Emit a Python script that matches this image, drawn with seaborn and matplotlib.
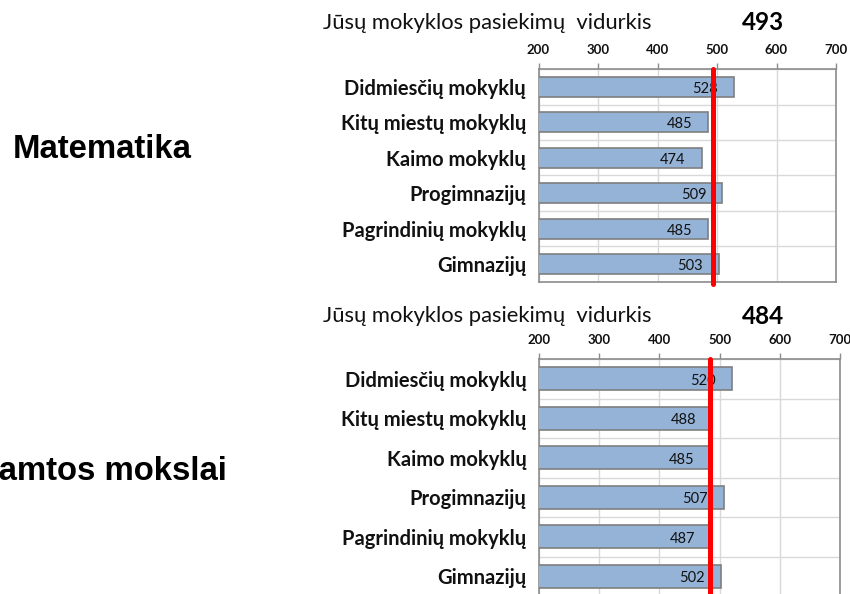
import pandas as pd
import matplotlib
matplotlib.use('Agg')
import matplotlib.pyplot as plt
from matplotlib.ticker import FixedLocator
import seaborn as sns

# Data
categories = ['Didmiesčių mokyklų', 'Kitų miestų mokyklų', 'Kaimo mokyklų',
              'Progimnazijų', 'Pagrindinių mokyklų', 'Gimnazijų']
math_scores = [528, 485, 474, 509, 485, 503]
science_scores = [520, 488, 485, 507, 487, 502]
math_school_avg = 493
science_school_avg = 484
subjects = ['Matematika', 'Gamtos mokslai']
panel_title = 'Jūsų mokyklos pasiekimų  vidurkis'
x_ticks = [200, 300, 400, 500, 600, 700]

BAR_COLOR = '#95B3D7'
EDGE_COLOR = '#7F7F7F'
GRID_COLOR = '#D9D9D9'
SPINE_COLOR = '#8C8C8C'
TEXT_COLOR = '#111111'

sns.set_style('white')
plt.rcParams['font.family'] = ['Lato', 'DejaVu Sans']


def draw_panel(fig, rect, scores, school_avg):
    ax = fig.add_axes(rect)
    df = pd.DataFrame({'category': categories, 'score': scores})
    sns.barplot(data=df, x='score', y='category', orient='h', ax=ax,
                color=BAR_COLOR, edgecolor=EDGE_COLOR, linewidth=1.2,
                width=0.57, saturation=1, zorder=3)

    ax.set_xlim(x_ticks[0], x_ticks[-1])
    ax.set_ylim(len(categories) - 0.5, -0.5)
    ax.set_xlabel('')
    ax.set_ylabel('')

    # x axis on top, like the original
    ax.xaxis.tick_top()
    ax.set_xticks(x_ticks)
    ax.set_xticklabels([str(t) for t in x_ticks], fontsize=9.5,
                       fontweight='bold', color=TEXT_COLOR)
    ax.tick_params(axis='x', which='major', direction='out', length=4.5,
                   width=1, color=SPINE_COLOR, pad=5)

    # category labels, tick marks between categories
    ax.set_yticks(range(len(categories)))
    ax.set_yticklabels(categories, fontsize=14.5, fontweight='bold',
                       color=TEXT_COLOR)
    ax.tick_params(axis='y', which='major', length=0, pad=9)
    ax.yaxis.set_minor_locator(FixedLocator([i - 0.5 for i in range(len(categories) + 1)]))
    ax.tick_params(axis='y', which='minor', direction='out', length=5,
                   width=1, color=SPINE_COLOR)

    ax.grid(which='major', axis='x', color=GRID_COLOR, lw=1, zorder=0)
    ax.grid(which='minor', axis='y', color=GRID_COLOR, lw=1, zorder=0)
    ax.set_axisbelow(True)
    for side in ['top', 'bottom', 'left', 'right']:
        ax.spines[side].set_visible(True)
        ax.spines[side].set_color(SPINE_COLOR)
        ax.spines[side].set_linewidth(1.2)

    for i, v in enumerate(scores):
        ax.annotate(str(v), xy=(v, i), xytext=(-11.5, -1.5),
                    textcoords='offset points', ha='right', va='center',
                    fontsize=10.5, color=TEXT_COLOR, zorder=4)

    ax.axvline(school_avg, ymin=-0.01, ymax=1, color='#FF0000', lw=3.6,
               zorder=6, clip_on=False)
    return ax


fig = plt.figure(figsize=(8.5, 5.94), dpi=100)
W, H = 850.0, 594.0

# top panel (Matematika)
draw_panel(fig, [538.5 / W, 1 - 282 / H, (836 - 538.5) / W, (282 - 69) / H],
           math_scores, math_school_avg)
# bottom panel (Gamtos mokslai), runs off the bottom edge
draw_panel(fig, [539 / W, 1 - 596 / H, (840 - 539) / W, (596 - 359) / H],
           science_scores, science_school_avg)

# panel headers
for y_px, avg in [(23, math_school_avg), (316, science_school_avg)]:
    fig.text(323 / W, 1 - y_px / H, panel_title, ha='left', va='center',
             fontsize=15.8, color=TEXT_COLOR)
    fig.text(763 / W, 1 - y_px / H, str(avg), ha='center', va='center',
             fontsize=17.5, fontweight='bold', color='#000000')

# subject labels at the left (the second one runs off the left edge, as in the original)
fig.text(102 / W, 1 - 149 / H, subjects[0], ha='center', va='center',
         fontsize=23.7, fontweight='bold', family='Liberation Sans', color='#000000')
fig.text(227 / W, 1 - 471 / H, subjects[1], ha='right', va='center',
         fontsize=23.7, fontweight='bold', family='Liberation Sans', color='#000000')

fig.savefig('out.png', dpi=100)
